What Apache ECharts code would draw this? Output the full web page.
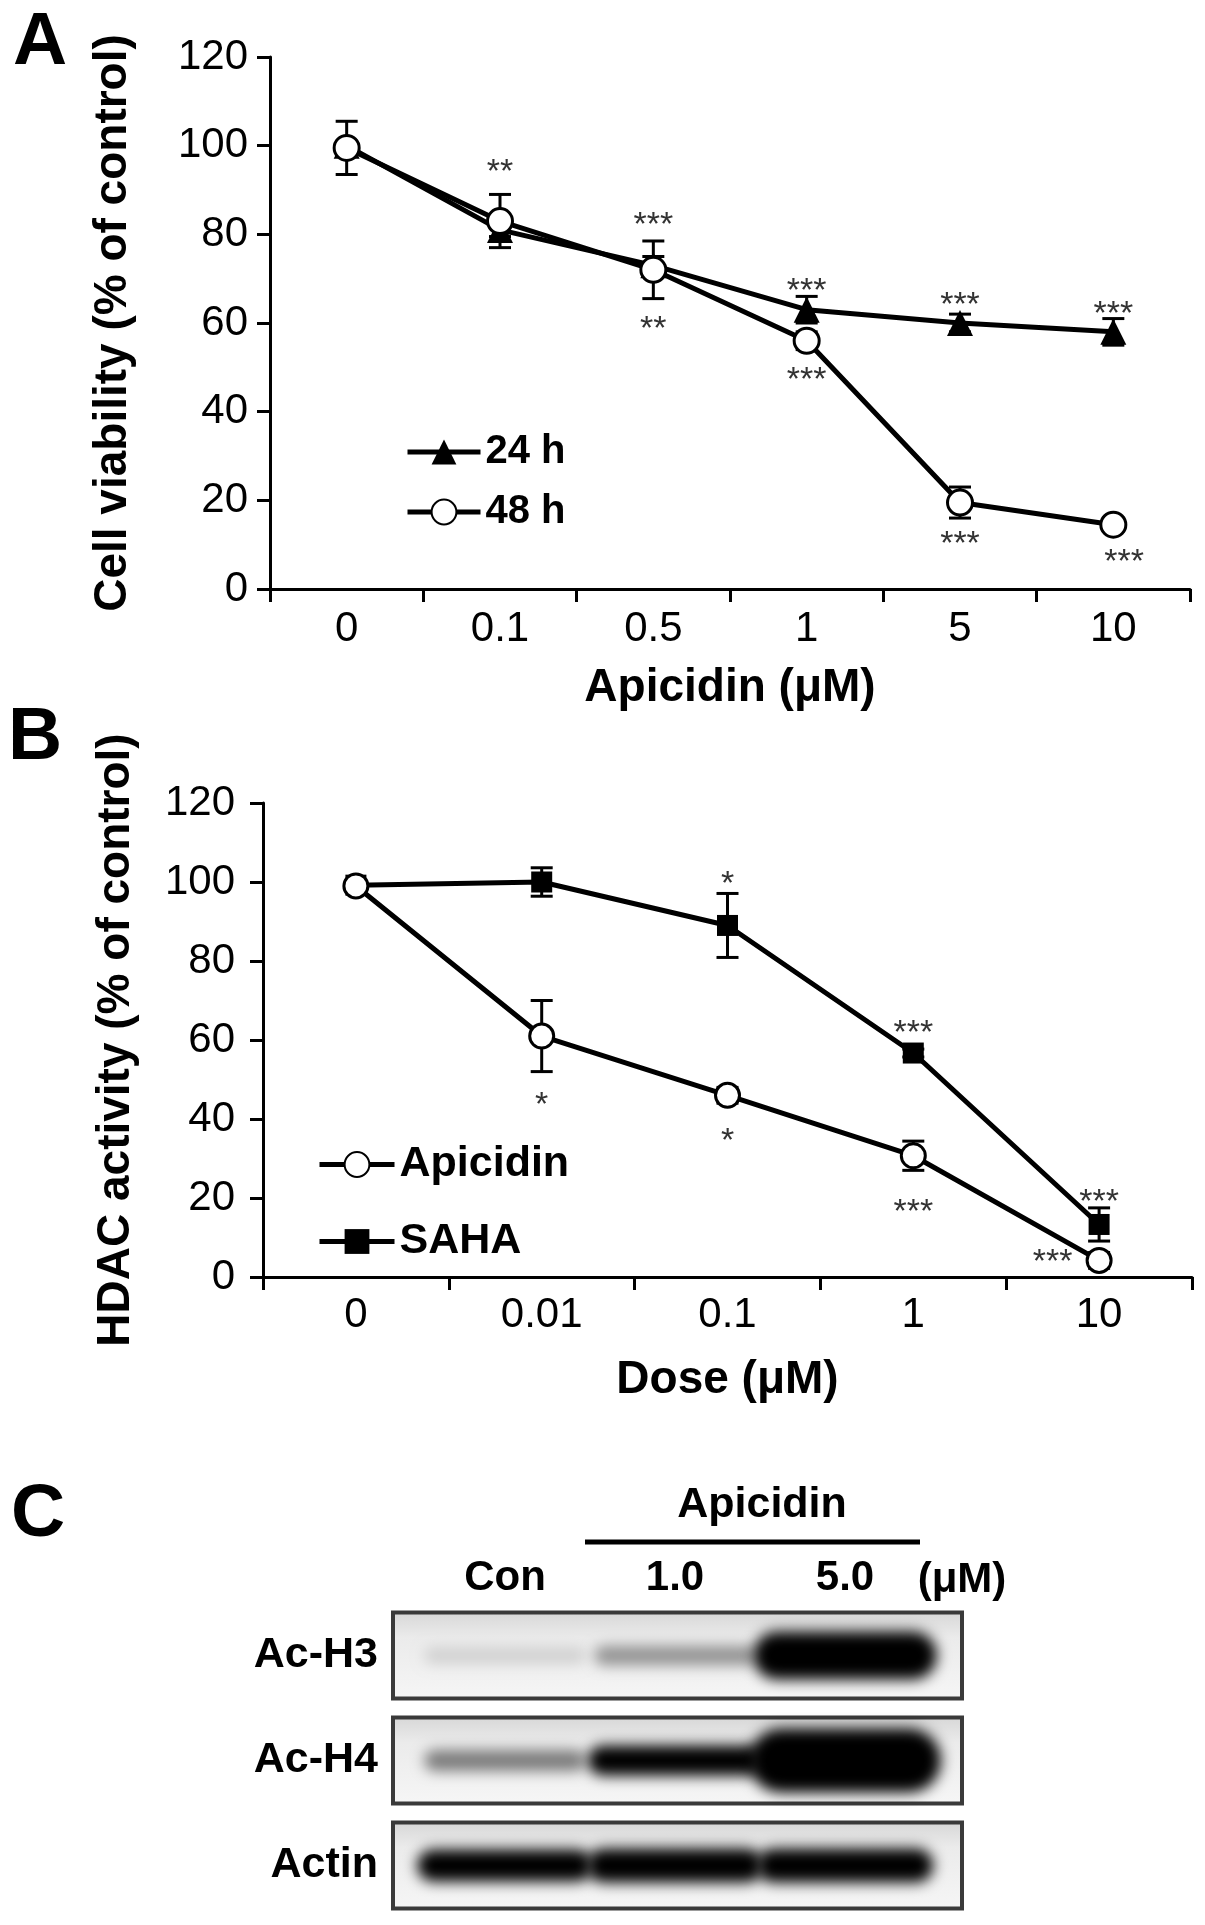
<!DOCTYPE html>
<html>
<head>
<meta charset="utf-8">
<title>Apicidin figure</title>
<script src="https://cdn.jsdelivr.net/npm/echarts@6/dist/echarts.min.js"></script>
<style>
  html, body { margin: 0; padding: 0; background: #fff; }
  #main { width: 1205px; height: 1925px; }
</style>
</head>
<body>
<div id="main"></div>
<script>
// panel A - cell viability
const doseA = ["0", "0.1", "0.5", "1", "5", "10"];
const via24 = [100, 81, 73, 63, 60, 58];
const via24Err = [1, 1.5, 2, 3, 2, 3];
const via48 = [99.5, 83, 72, 56, 19.5, 14.5];
const via48Err = [6, 6, 6.5, 2, 3.5, 1.5];
// [category index, value, mark]
const starsA = [
  [1, 96, "**"], [2, 84, "***"], [2, 60.5, "**"],
  [3, 69, "***"], [3, 49, "***"], [4, 66, "***"], [4, 12, "***"],
  [5, 64, "***"], [5.07, 8, "***"]
];

// panel B - HDAC activity
const doseB = ["0", "0.01", "0.1", "1", "10"];
const hdacApi = [99, 61, 46, 30.7, 4.2];
const hdacApiErr = [1, 9, 2, 3.7, 2];
const hdacSaha = [99.2, 100, 89, 56.7, 13.3];
const hdacSahaErr = [1, 3.6, 8.1, 1, 4.2];
const starsB = [
  [2, 101.7, "*"], [1, 45.6, "*"], [2, 36.5, "*"],
  [3, 63.8, "***"], [3, 18.7, "***"], [4, 21, "***"], [3.75, 5.8, "***"]
];

// panel C - western blot, relative band intensity (>1 = over-exposed)
const lanes = ["Con", "1.0", "5.0"];
const blotRows = ["Ac-H3", "Ac-H4", "Actin"];
const acH3 = [0.15, 0.4, 1.5];
const acH4 = [0.5, 1.05, 1.9];
const actin = [1.1, 1.15, 1.15];

const FONT = "'Liberation Sans', Arial, Helvetica, sans-serif";

function errRender(params, api) {
  const i = api.value(0), v = api.value(1), e = api.value(2);
  const hi = api.coord([i, v + e]);
  const lo = api.coord([i, v - e]);
  const w = 11;
  const st = { stroke: "#000", lineWidth: 3 };
  return {
    type: "group",
    children: [
      { type: "line", shape: { x1: hi[0], y1: hi[1], x2: lo[0], y2: lo[1] }, style: st },
      { type: "line", shape: { x1: hi[0] - w, y1: hi[1], x2: hi[0] + w, y2: hi[1] }, style: st },
      { type: "line", shape: { x1: lo[0] - w, y1: lo[1], x2: lo[0] + w, y2: lo[1] }, style: st }
    ]
  };
}

function starRender(list) {
  return function (params, api) {
    const x = list[params.dataIndex][0];
    const base = Math.floor(x);
    const p = api.coord([base, api.value(1)]);
    p[0] += (x - base) * api.size([1, 0])[0];
    return {
      type: "text",
      style: {
        text: list[params.dataIndex][2],
        x: p[0], y: p[1] + 9,
        textAlign: "center", textVerticalAlign: "middle",
        font: "34px " + FONT, fill: "#333"
      }
    };
  };
}

function errData(vals, errs) {
  return vals.map((v, i) => [i, v, errs[i]]);
}

const bandData = [];
[acH3, acH4, actin].forEach((row, r) => {
  row.forEach((k, l) => bandData.push([l, r, k]));
});

function bandRender(params, api) {
  const c = api.coord([api.value(0), api.value(1)]);
  const lw = api.size([1, 0])[0];
  const k = api.value(2);
  const g = Math.round(245 - 245 * Math.min(1, k));
  const col = "rgb(" + g + "," + g + "," + g + ")";
  const h = k >= 1 ? 28 + (k - 1) * 40 : 14 + 14 * k;
  const w = lw * (k >= 1 ? 1.02 + 0.12 * (k - 1) : 0.95);
  const off = 3000;
  return {
    type: "rect",
    shape: { x: c[0] - w / 2 - off, y: c[1] - h / 2, width: w, height: h, r: h / 2 },
    style: { fill: col, shadowColor: col, shadowBlur: 14, shadowOffsetX: off }
  };
}

function frameRender(params, api) {
  const c = api.coord([1, api.value(0)]);
  const cs = params.coordSys;
  return {
    type: "rect",
    shape: { x: cs.x - 27, y: c[1] - 43, width: cs.width + 59, height: 86 },
    style: {
      fill: {
        type: "linear", x: 0, y: 0, x2: 0, y2: 1,
        colorStops: [
          { offset: 0, color: "#d6d6d6" },
          { offset: 0.3, color: "#ebebeb" },
          { offset: 1, color: "#f6f6f6" }
        ]
      },
      stroke: "#3a3a3a", lineWidth: 4
    }
  };
}

const axisLine = { lineStyle: { color: "#000", width: 3 } };
const axisTick = { show: true, length: 13, lineStyle: { color: "#000", width: 3 } };
const tickFont = { fontSize: 42, fontFamily: FONT, color: "#000" };
const nameFont = { fontSize: 46, fontWeight: "bold", fontFamily: FONT, color: "#000" };

const chart = echarts.init(document.getElementById("main"), null, { renderer: "canvas" });

const option = {
  animation: false,
  backgroundColor: "#fff",
  grid: [
    { left: 270, top: 57, width: 920, height: 532 },
    { left: 263, top: 803, width: 929, height: 474 },
    { left: 420, top: 1603, width: 510, height: 315 }
  ],
  xAxis: [
    {
      gridIndex: 0, type: "category", data: doseA, boundaryGap: true,
      axisLine: axisLine, axisTick: Object.assign({ interval: 0 }, axisTick),
      axisLabel: Object.assign({ margin: 19, interval: 0 }, tickFont),
      splitLine: { show: false },
      name: "Apicidin (μM)", nameLocation: "middle", nameGap: 76, nameTextStyle: nameFont
    },
    {
      gridIndex: 1, type: "category", data: doseB, boundaryGap: true,
      axisLine: axisLine, axisTick: Object.assign({ interval: 0 }, axisTick),
      axisLabel: Object.assign({ margin: 17, interval: 0 }, tickFont),
      splitLine: { show: false },
      name: "Dose (μM)", nameLocation: "middle", nameGap: 80, nameTextStyle: nameFont
    },
    {
      gridIndex: 2, type: "category", data: lanes, position: "top",
      axisLine: { show: false }, axisTick: { show: false },
      axisLabel: { margin: 4, fontSize: 42, fontWeight: "bold", fontFamily: FONT, color: "#000" },
      splitLine: { show: false }
    }
  ],
  yAxis: [
    {
      gridIndex: 0, type: "value", min: 0, max: 120, interval: 20,
      axisLine: Object.assign({ show: true }, axisLine), axisTick: axisTick,
      axisLabel: Object.assign({ margin: 22 }, tickFont),
      splitLine: { show: false },
      name: "Cell viability (% of control)", nameLocation: "middle", nameGap: 134,
      nameRotate: 90, nameTextStyle: nameFont
    },
    {
      gridIndex: 1, type: "value", min: 0, max: 120, interval: 20,
      axisLine: Object.assign({ show: true }, axisLine), axisTick: axisTick,
      axisLabel: Object.assign({ margin: 28 }, tickFont),
      splitLine: { show: false },
      name: "HDAC activity (% of control)", nameLocation: "middle", nameGap: 124,
      nameRotate: 90, nameTextStyle: nameFont
    },
    {
      gridIndex: 2, type: "category", data: blotRows, inverse: true,
      axisLine: { show: false }, axisTick: { show: false },
      axisLabel: { margin: 42, fontSize: 43, fontWeight: "bold", fontFamily: FONT, color: "#000" },
      splitLine: { show: false }
    }
  ],
  legend: [
    {
      data: ["24 h", "48 h"], orient: "vertical", left: 400, top: 427,
      itemWidth: 73, itemHeight: 31, itemGap: 20, selectedMode: false,
      lineStyle: { width: 5, color: "#000" },
      textStyle: { fontSize: 40, fontWeight: "bold", fontFamily: FONT, color: "#000", lineHeight: 31 }
    },
    {
      data: ["Apicidin", "SAHA"], orient: "vertical", left: 312, top: 1138,
      itemWidth: 75, itemHeight: 31, itemGap: 34, selectedMode: false,
      lineStyle: { width: 5, color: "#000" },
      textStyle: { fontSize: 43, fontWeight: "bold", fontFamily: FONT, color: "#000", lineHeight: 31 }
    }
  ],
  series: [
    // panel A
    {
      type: "custom", xAxisIndex: 0, yAxisIndex: 0, z: 1,
      renderItem: errRender, data: errData(via24, via24Err), encode: { x: 0, y: 1 }
    },
    {
      type: "custom", xAxisIndex: 0, yAxisIndex: 0, z: 1,
      renderItem: errRender, data: errData(via48, via48Err), encode: { x: 0, y: 1 }
    },
    {
      name: "24 h", type: "line", xAxisIndex: 0, yAxisIndex: 0, z: 2,
      data: via24, symbol: "triangle", symbolSize: 26, showSymbol: true,
      lineStyle: { color: "#000", width: 5 },
      itemStyle: { color: "#000" }, emphasis: { disabled: true }
    },
    {
      name: "48 h", type: "line", xAxisIndex: 0, yAxisIndex: 0, z: 3,
      data: via48, symbol: "circle", symbolSize: 25, showSymbol: true,
      lineStyle: { color: "#000", width: 5 },
      itemStyle: { color: "#fff", borderColor: "#000", borderWidth: 3 },
      emphasis: { disabled: true }
    },
    {
      type: "custom", xAxisIndex: 0, yAxisIndex: 0, z: 4,
      renderItem: starRender(starsA), data: starsA.map(s => [Math.floor(s[0]), s[1]]), encode: { x: 0, y: 1 }
    },
    // panel B
    {
      type: "custom", xAxisIndex: 1, yAxisIndex: 1, z: 1,
      renderItem: errRender, data: errData(hdacApi, hdacApiErr), encode: { x: 0, y: 1 }
    },
    {
      type: "custom", xAxisIndex: 1, yAxisIndex: 1, z: 1,
      renderItem: errRender, data: errData(hdacSaha, hdacSahaErr), encode: { x: 0, y: 1 }
    },
    {
      name: "SAHA", type: "line", xAxisIndex: 1, yAxisIndex: 1, z: 2,
      data: hdacSaha, symbol: "rect", symbolSize: 21, showSymbol: true,
      lineStyle: { color: "#000", width: 5 },
      itemStyle: { color: "#000" }, emphasis: { disabled: true }
    },
    {
      name: "Apicidin", type: "line", xAxisIndex: 1, yAxisIndex: 1, z: 3,
      data: hdacApi, symbol: "circle", symbolSize: 24, showSymbol: true,
      lineStyle: { color: "#000", width: 5 },
      itemStyle: { color: "#fff", borderColor: "#000", borderWidth: 3 },
      emphasis: { disabled: true }
    },
    {
      type: "custom", xAxisIndex: 1, yAxisIndex: 1, z: 4,
      renderItem: starRender(starsB), data: starsB.map(s => [Math.floor(s[0]), s[1]]), encode: { x: 0, y: 1 }
    },
    // panel C
    {
      type: "custom", xAxisIndex: 2, yAxisIndex: 2, z: 1,
      renderItem: frameRender, data: blotRows.map((r, i) => [i]), encode: { y: 0 }
    },
    {
      type: "custom", xAxisIndex: 2, yAxisIndex: 2, z: 2,
      renderItem: bandRender, data: bandData, encode: { x: 0, y: 1 }
    }
  ],
  graphic: [
    { type: "text", x: 40, y: 43, style: { text: "A", font: "bold 75px " + FONT, textAlign: "center", textVerticalAlign: "middle", fill: "#000" } },
    { type: "text", x: 35, y: 738, style: { text: "B", font: "bold 75px " + FONT, textAlign: "center", textVerticalAlign: "middle", fill: "#000" } },
    { type: "text", x: 38, y: 1515, style: { text: "C", font: "bold 75px " + FONT, textAlign: "center", textVerticalAlign: "middle", fill: "#000" } },
    { type: "text", x: 762, y: 1505, style: { text: "Apicidin", font: "bold 43px " + FONT, textAlign: "center", textVerticalAlign: "middle", fill: "#000" } },
    { type: "line", shape: { x1: 585, y1: 1542, x2: 920, y2: 1542 }, style: { stroke: "#000", lineWidth: 5 } },
    { type: "text", x: 962, y: 1580, style: { text: "(μM)", font: "bold 42px " + FONT, textAlign: "center", textVerticalAlign: "middle", fill: "#000" } }
  ]
};

chart.setOption(option);
</script>
</body>
</html>
